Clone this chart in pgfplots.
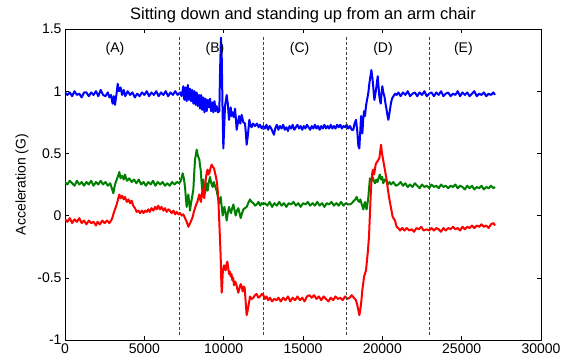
\documentclass[border=0pt]{standalone}
\usepackage{fontspec}
\setmainfont{Liberation Sans}
\usepackage{pgfplots}
\pgfplotsset{compat=1.18}
\definecolor{mblue}{RGB}{0,0,255}
\definecolor{mgreen}{RGB}{0,128,0}
\definecolor{mred}{RGB}{255,0,0}
\begin{document}
\begin{tikzpicture}
\begin{axis}[
  scale only axis, width=476bp, height=311bp,
  xmin=0, xmax=30000, ymin=-1, ymax=1.5,
  xtick={0,5000,10000,15000,20000,25000,30000},
  ytick={-1,-0.5,0,0.5,1,1.5},
  scaled x ticks=false,
  xticklabel style={/pgf/number format/set thousands separator={}, /pgf/number format/fixed},
  /pgf/number format/assume math mode=true,
  tick label style={font=\fontsize{14bp}{16bp}\selectfont},
  tick align=inside, xtick pos=both, ytick pos=both,
  major tick length=4bp,
  axis line style={line width=0.8bp},
  every tick/.style={line width=0.6bp, black},
  ylabel={Acceleration (G)},
  ylabel style={at={(axis description cs:-0.0903,0.5)}, anchor=center, font=\fontsize{14bp}{16bp}\selectfont},
  clip=true,
  line join=round,
]
\coordinate (ll) at (rel axis cs:0,0);
\addplot[mblue, line width=2bp] coordinates {
(0,0.99)(150,0.97)(300,0.99)(450,0.96)(600,1.00)(750,0.97)(900,0.98)(1050,0.95)(1200,0.99)(1350,0.99)(1500,0.96)(1650,0.99)(1800,0.97)(1950,1.00)(2100,0.96)(2250,1.01)(2400,0.97)(2550,0.96)(2700,0.99)(2800,0.95)(2900,0.97)(3000,0.90)(3080,0.96)(3150,0.89)(3250,0.98)(3320,1.06)(3400,1.00)(3500,1.03)(3600,0.97)(3700,1.01)(3800,0.96)(3950,1.00)(4100,0.97)(4250,0.99)(4400,0.95)(4550,0.98)(4700,0.96)(4850,0.99)(5000,0.97)(5150,1.00)(5300,0.96)(5450,0.99)(5600,0.97)(5750,1.00)(5900,0.96)(6050,0.99)(6200,0.97)(6350,1.00)(6500,0.96)(6650,0.99)(6800,0.97)(6950,1.00)(7100,0.97)(7250,0.99)
(7350,0.96)(7458,1.04)(7520,0.93)(7600,1.03)(7668,0.92)(7740,1.05)(7810,0.93)(7879,1.02)(7950,0.92)(8020,1.01)(8089,0.90)(8160,1.00)(8230,0.89)(8299,0.99)(8370,0.88)(8440,0.97)(8509,0.86)(8580,0.97)(8650,0.85)(8719,0.95)(8790,0.83)(8860,0.94)(8929,0.84)(9000,0.93)(9070,0.87)(9139,0.94)(9210,0.84)(9280,0.91)(9349,0.83)(9420,0.92)(9490,0.84)(9559,0.88)(9640,0.83)(9727,0.84)(9770,1.15)(9830,1.43)(9875,1.30)(9930,0.85)(9980,0.54)(10030,0.70)(10085,0.88)(10190,0.97)(10260,0.90)(10337,0.77)(10400,0.84)(10442,0.87)(10500,0.80)(10568,0.83)(10640,0.79)(10715,0.86)(10770,0.78)(10820,0.69)(10900,0.75)(10967,0.80)(11050,0.74)(11135,0.81)(11240,0.75)(11345,0.74)(11400,0.66)(11450,0.57)(11530,0.65)(11618,0.77)(11700,0.72)(11765,0.71)(11850,0.74)(11975,0.72)(12100,0.74)(12200,0.71)(12290,0.73)(12400,0.70)(12500,0.72)
(12600,0.70)(12700,0.73)(12800,0.69)(12900,0.72)(13000,0.70)(13100,0.67)(13170,0.65)(13250,0.70)(13350,0.73)(13450,0.69)(13550,0.72)(13650,0.70)(13750,0.73)(13850,0.69)(13950,0.71)(14050,0.68)(14150,0.72)(14250,0.70)(14350,0.73)(14450,0.69)(14550,0.71)(14650,0.73)(14750,0.70)(14850,0.72)(14950,0.69)(15050,0.72)(15150,0.70)(15250,0.73)(15350,0.71)(15450,0.69)(15550,0.72)(15650,0.70)(15750,0.73)(15850,0.70)(15950,0.72)(16050,0.69)(16150,0.72)(16250,0.70)(16350,0.73)(16450,0.70)(16550,0.72)(16650,0.70)(16750,0.73)(16850,0.70)(16950,0.72)(17050,0.70)(17150,0.73)(17250,0.71)(17350,0.73)(17450,0.70)(17550,0.72)(17650,0.71)(17750,0.73)
(17850,0.70)(17960,0.72)(18070,0.69)(18170,0.69)(18250,0.74)(18340,0.77)(18420,0.68)(18490,0.56)(18550,0.54)(18610,0.68)(18660,0.80)(18700,0.72)(18740,0.66)(18800,0.78)(18850,0.84)(18910,0.80)(18970,0.88)(19020,0.92)(19080,0.96)(19130,1.00)(19180,1.06)(19250,1.12)(19310,1.17)(19350,1.13)(19390,1.09)(19450,1.00)(19500,0.93)(19550,0.97)(19600,1.01)(19660,1.07)(19710,1.12)(19760,1.04)(19810,0.96)(19860,0.92)(19900,0.90)(19950,0.98)(20000,1.04)(20060,0.99)(20130,0.96)(20200,0.90)(20270,0.85)(20330,0.80)(20380,0.77)(20430,0.81)(20480,0.85)(20550,0.91)(20610,0.94)(20700,0.96)(20800,0.98)(20900,0.97)
(21010,0.99)(21150,0.96)(21300,0.99)(21450,0.97)(21600,1.00)(21750,0.96)(21900,0.98)(22050,0.99)(22200,0.96)(22350,0.99)(22500,0.97)(22650,1.00)(22800,0.96)(22950,0.98)(23100,0.99)(23250,0.96)(23400,0.99)(23550,0.97)(23700,1.00)(23850,0.96)(24000,0.98)(24150,0.99)(24300,0.96)(24450,0.98)(24600,0.97)(24750,1.00)(24900,0.96)(25050,0.99)(25200,0.97)(25350,0.99)(25500,0.96)(25650,0.98)(25800,1.00)(25950,0.96)(26100,0.98)(26250,0.97)(26400,0.99)(26550,0.96)(26700,0.98)(26850,0.97)(27000,0.99)(27100,0.97)
};
\addplot[mgreen, line width=2bp] coordinates {
(0,0.27)(150,0.25)(300,0.28)(450,0.26)(600,0.24)(750,0.28)(900,0.25)(1050,0.27)(1200,0.24)(1350,0.27)(1500,0.25)(1650,0.28)(1800,0.24)(1950,0.27)(2100,0.25)(2250,0.28)(2400,0.25)(2550,0.27)(2700,0.24)(2850,0.26)(2950,0.22)(3045,0.18)(3150,0.25)(3260,0.29)(3350,0.32)(3425,0.35)(3500,0.30)(3600,0.32)(3700,0.29)(3780,0.33)(3900,0.28)(4050,0.30)(4200,0.27)(4350,0.29)(4500,0.26)(4650,0.29)(4800,0.25)(4950,0.27)(5100,0.24)(5250,0.27)(5400,0.25)(5550,0.28)(5700,0.24)(5850,0.27)(6000,0.25)(6150,0.27)(6300,0.24)(6450,0.26)(6600,0.24)(6750,0.27)(6900,0.25)(7050,0.27)(7200,0.26)
(7300,0.28)(7418,0.34)(7490,0.30)(7564,0.23)(7620,0.14)(7668,0.07)(7720,0.12)(7773,0.17)(7830,0.10)(7879,0.04)(7930,0.09)(7984,0.13)(8040,0.17)(8089,0.21)(8140,0.33)(8194,0.45)(8250,0.49)(8299,0.53)(8380,0.48)(8467,0.45)(8510,0.40)(8551,0.37)(8600,0.28)(8656,0.20)(8719,0.29)(8770,0.22)(8824,0.18)(8880,0.23)(8929,0.26)(8990,0.20)(9050,0.26)(9139,0.31)(9220,0.26)(9307,0.23)(9380,0.27)(9450,0.24)(9560,0.20)(9650,0.14)(9727,0.10)(9812,0.15)(9870,0.08)(9938,0.00)(10000,0.04)(10043,0.07)(10120,0.02)(10190,-0.04)(10260,0.02)(10337,0.07)(10400,0.04)(10463,0.02)(10540,0.06)(10610,0.09)(10690,0.04)(10757,0.00)(10840,0.04)(10925,0.06)(11000,0.02)(11072,-0.02)(11160,0.02)(11240,0.05)(11340,0.06)(11450,0.07)(11550,0.10)(11660,0.13)(11760,0.11)(11870,0.10)(11980,0.08)(12080,0.09)(12200,0.11)(12300,0.08)(12400,0.10)(12500,0.09)
(12600,0.10)(12750,0.08)(12900,0.11)(13050,0.07)(13200,0.10)(13350,0.08)(13500,0.11)(13650,0.08)(13800,0.10)(13950,0.07)(14100,0.10)(14250,0.09)(14400,0.11)(14550,0.08)(14700,0.10)(14850,0.07)(15000,0.10)(15150,0.09)(15300,0.11)(15450,0.08)(15600,0.10)(15750,0.08)(15900,0.11)(16050,0.08)(16200,0.10)(16350,0.07)(16500,0.10)(16650,0.09)(16800,0.11)(16950,0.08)(17100,0.10)(17250,0.08)(17400,0.11)(17550,0.08)(17700,0.10)(17850,0.09)
(17960,0.09)(18080,0.10)(18210,0.12)(18300,0.13)(18380,0.15)(18470,0.12)(18550,0.11)(18620,0.13)(18700,0.09)(18760,0.07)(18800,0.05)(18860,0.09)(18910,0.11)(18960,0.07)(19010,0.05)(19070,0.10)(19120,0.15)(19170,0.23)(19220,0.30)(19300,0.28)(19390,0.31)(19460,0.28)(19540,0.26)(19620,0.29)(19700,0.27)(19780,0.31)(19850,0.33)(19920,0.29)(19990,0.31)(20060,0.26)(20150,0.29)(20250,0.28)(20350,0.25)(20450,0.27)(20550,0.25)(20690,0.27)(20850,0.24)(21010,0.25)
(21150,0.27)(21300,0.24)(21450,0.26)(21600,0.23)(21750,0.25)(21900,0.23)(22050,0.26)(22200,0.24)(22350,0.22)(22500,0.25)(22650,0.23)(22800,0.24)(22950,0.22)(23100,0.25)(23250,0.23)(23400,0.24)(23550,0.22)(23700,0.25)(23850,0.23)(24000,0.24)(24150,0.22)(24300,0.24)(24450,0.23)(24600,0.25)(24750,0.22)(24900,0.24)(25050,0.23)(25200,0.21)(25350,0.24)(25500,0.22)(25650,0.24)(25800,0.21)(25950,0.23)(26100,0.22)(26250,0.24)(26400,0.21)(26550,0.23)(26700,0.22)(26850,0.24)(27000,0.22)(27100,0.23)
};
\addplot[mred, line width=2bp] coordinates {
(0,-0.03)(150,-0.05)(300,-0.02)(450,-0.06)(600,-0.03)(750,-0.05)(900,-0.02)(1050,-0.06)(1200,-0.04)(1350,-0.07)(1500,-0.04)(1650,-0.06)(1800,-0.05)(1950,-0.08)(2050,-0.05)(2200,-0.07)(2350,-0.04)(2500,-0.06)(2650,-0.04)(2800,-0.06)(2900,-0.04)(2980,-0.02)(3045,0.01)(3150,0.05)(3260,0.09)(3340,0.13)(3425,0.17)(3500,0.14)(3600,0.16)(3700,0.13)(3780,0.15)(3900,0.11)(4000,0.13)(4100,0.10)(4200,0.12)(4300,0.08)(4410,0.06)(4520,0.03)(4630,0.04)(4730,0.02)(4850,0.04)(4950,0.02)(5050,0.04)(5150,0.03)(5250,0.05)(5350,0.03)(5450,0.06)(5570,0.04)(5680,0.07)(5780,0.05)(5880,0.08)(5980,0.05)(6080,0.07)(6200,0.04)(6300,0.06)(6410,0.03)(6520,0.05)(6620,0.04)(6720,0.02)(6830,0.04)(6940,0.01)(7040,0.03)(7150,0.01)(7250,0.02)
(7354,0.00)(7460,0.01)(7564,-0.02)(7670,-0.05)(7773,-0.09)(7850,-0.07)(7921,-0.05)(7990,-0.03)(8047,-0.01)(8120,0.03)(8194,0.06)(8270,0.09)(8341,0.11)(8400,0.14)(8467,0.17)(8520,0.13)(8572,0.11)(8630,0.18)(8677,0.21)(8730,0.16)(8782,0.14)(8830,0.24)(8887,0.31)(8940,0.35)(8992,0.37)(9040,0.33)(9097,0.34)(9170,0.38)(9244,0.41)(9320,0.39)(9391,0.38)(9460,0.34)(9517,0.31)(9570,0.27)(9622,0.21)(9680,0.08)(9727,-0.06)(9770,-0.20)(9812,-0.33)(9845,-0.50)(9875,-0.62)(9900,-0.58)(9938,-0.47)(9980,-0.42)(10022,-0.40)(10075,-0.43)(10127,-0.44)(10180,-0.39)(10232,-0.37)(10285,-0.42)(10337,-0.47)(10390,-0.45)(10442,-0.49)(10495,-0.47)(10547,-0.52)(10600,-0.50)(10652,-0.56)(10720,-0.53)(10790,-0.55)(10860,-0.59)(10925,-0.62)(11000,-0.58)(11072,-0.55)(11150,-0.58)(11200,-0.61)(11260,-0.57)(11324,-0.58)(11390,-0.70)(11450,-0.80)(11500,-0.77)(11555,-0.73)(11610,-0.69)(11660,-0.65)(11760,-0.67)(11870,-0.66)(11970,-0.64)(12080,-0.63)(12180,-0.66)(12290,-0.65)(12400,-0.63)(12500,-0.64)
(12600,-0.67)(12700,-0.65)(12800,-0.68)(12920,-0.66)(13050,-0.69)(13180,-0.67)(13340,-0.68)(13450,-0.66)(13600,-0.69)(13750,-0.66)(13900,-0.68)(14050,-0.65)(14200,-0.69)(14350,-0.66)(14500,-0.68)(14650,-0.65)(14800,-0.68)(14950,-0.66)(15100,-0.69)(15250,-0.65)(15400,-0.64)(15550,-0.66)(15700,-0.64)(15850,-0.67)(16000,-0.65)(16150,-0.68)(16300,-0.65)(16450,-0.67)(16600,-0.69)(16750,-0.66)(16900,-0.68)(17050,-0.65)(17200,-0.67)(17350,-0.66)(17500,-0.68)(17650,-0.65)(17800,-0.67)
(17940,-0.66)(18070,-0.64)(18200,-0.66)(18340,-0.68)(18420,-0.72)(18490,-0.76)(18550,-0.80)(18610,-0.76)(18660,-0.71)(18740,-0.60)(18850,-0.49)(18970,-0.44)(19080,-0.30)(19160,-0.17)(19220,0.02)(19290,0.23)(19370,0.35)(19430,0.37)(19480,0.33)(19580,0.41)(19650,0.43)(19710,0.44)(19810,0.46)(19870,0.52)(19920,0.57)(19970,0.51)(20020,0.47)(20130,0.39)(20270,0.29)(20350,0.21)(20420,0.15)(20490,0.10)(20550,0.06)(20650,-0.01)(20800,-0.04)(20900,-0.09)(21000,-0.10)(21120,-0.12)(21250,-0.10)(21400,-0.12)(21540,-0.10)(21700,-0.12)(21850,-0.11)(22000,-0.13)(22150,-0.10)(22300,-0.11)(22450,-0.09)(22600,-0.12)(22800,-0.11)
(22950,-0.12)(23100,-0.10)(23250,-0.12)(23400,-0.10)(23550,-0.11)(23700,-0.13)(23850,-0.10)(24000,-0.12)(24150,-0.10)(24300,-0.11)(24450,-0.09)(24600,-0.11)(24750,-0.10)(24900,-0.12)(25050,-0.09)(25200,-0.11)(25350,-0.09)(25500,-0.10)(25650,-0.08)(25800,-0.10)(25950,-0.08)(26100,-0.09)(26250,-0.07)(26400,-0.09)(26550,-0.08)(26700,-0.10)(26850,-0.07)(27000,-0.06)(27100,-0.08)
};
\addplot[black!75, line width=0.8bp, dash pattern=on 3bp off 2bp] coordinates {(7190,-0.96) (7190,1.45)};
\addplot[black!75, line width=0.8bp, dash pattern=on 3bp off 2bp] coordinates {(12500,-0.96) (12500,1.45)};
\addplot[black!75, line width=0.8bp, dash pattern=on 3bp off 2bp] coordinates {(17720,-0.96) (17720,1.45)};
\addplot[black!75, line width=0.8bp, dash pattern=on 3bp off 2bp] coordinates {(22950,-0.96) (22950,1.45)};
\node[font=\fontsize{14bp}{16bp}\selectfont] at (axis cs:3150,1.337) {(A)};
\node[font=\fontsize{14bp}{16bp}\selectfont] at (axis cs:9450,1.337) {(B)};
\node[font=\fontsize{14bp}{16bp}\selectfont] at (axis cs:14790,1.337) {(C)};
\node[font=\fontsize{14bp}{16bp}\selectfont] at (axis cs:20040,1.337) {(D)};
\node[font=\fontsize{14bp}{16bp}\selectfont] at (axis cs:25105,1.337) {(E)};
\coordinate (tt) at (rel axis cs:0.5,1);
\end{axis}
\node[anchor=base, font=\fontsize{16.5bp}{18bp}\selectfont] at ([yshift=9bp]tt) {Sitting down and standing up from an arm chair};
\path (ll) ++(-65bp,-22bp) rectangle ++(572bp,362bp);
\end{tikzpicture}
\end{document}
